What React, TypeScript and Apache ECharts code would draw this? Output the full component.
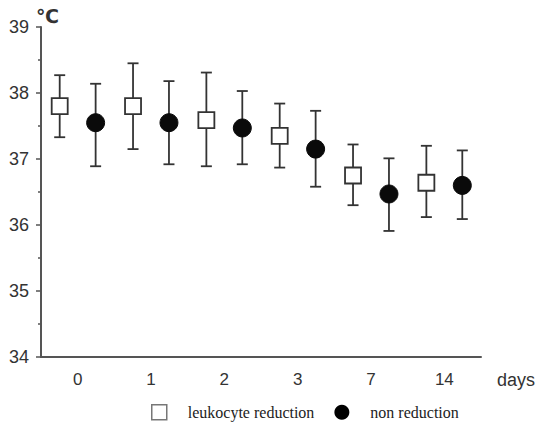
import React, { useEffect, useRef } from "react";
import * as echarts from "echarts";

const days = ["0", "1", "2", "3", "7", "14"];
const leukMean = [37.8, 37.8, 37.59, 37.35, 36.75, 36.64];
const leukLow = [37.33, 37.15, 36.89, 36.87, 36.3, 36.12];
const leukHigh = [38.27, 38.45, 38.31, 37.84, 37.22, 37.2];
const nonMean = [37.55, 37.55, 37.47, 37.15, 36.47, 36.6];
const nonLow = [36.89, 36.92, 36.92, 36.58, 35.91, 36.09];
const nonHigh = [38.14, 38.18, 38.03, 37.73, 37.01, 37.13];
const yTicks = [34, 35, 36, 37, 38, 39];

const LEUK = "leukocyte reduction";
const NON = "non reduction";

function makeRender(side: number, kind: "square" | "circle") {
  return (params: any, api: any) => {
    const idx = api.value(0);
    const bw = api.size([1, 0])[0];
    const off = bw * 0.245 * side;
    const c = api.coord([idx, api.value(1)]);
    const lo = api.coord([idx, api.value(2)]);
    const hi = api.coord([idx, api.value(3)]);
    const x = c[0] + off;
    const cap = 5.5;
    const lineStyle = { stroke: "#333", lineWidth: 1.8 };
    const children: any[] = [
      { type: "line", shape: { x1: x, y1: hi[1], x2: x, y2: lo[1] }, style: lineStyle },
      { type: "line", shape: { x1: x - cap, y1: hi[1], x2: x + cap, y2: hi[1] }, style: lineStyle },
      { type: "line", shape: { x1: x - cap, y1: lo[1], x2: x + cap, y2: lo[1] }, style: lineStyle },
    ];
    if (kind === "square") {
      children.push({
        type: "rect",
        shape: { x: x - 8, y: c[1] - 8, width: 16, height: 16 },
        style: { fill: "#fff", stroke: "#333", lineWidth: 1.8 },
      });
    } else {
      children.push({
        type: "circle",
        shape: { cx: x, cy: c[1], r: 9 },
        style: { fill: "#0a0a0a", stroke: "#0a0a0a", lineWidth: 1 },
      });
    }
    return { type: "group", children };
  };
}

export default function App() {
  const ref = useRef<HTMLDivElement>(null);
  useEffect(() => {
    document.body.style.margin = "0";
    const chart = echarts.init(ref.current!, null, { renderer: "svg" });
    const leukData = days.map((_, i) => [i, leukMean[i], leukLow[i], leukHigh[i]]);
    const nonData = days.map((_, i) => [i, nonMean[i], nonLow[i], nonHigh[i]]);
    chart.setOption({
      animation: false,
      backgroundColor: "#fff",
      grid: { left: 41, right: 58, top: 27, bottom: 71, containLabel: false },
      legend: {
        left: 146,
        top: 399,
        itemWidth: 15,
        itemHeight: 15,
        itemGap: 20,
        textStyle: {
          fontFamily: "Liberation Serif",
          fontSize: 16,
          color: "#222",
          padding: [0, 0, 0, 16],
        },
        data: [
          { name: LEUK, icon: "rect", itemStyle: { color: "#fff", borderColor: "#777", borderWidth: 1.5 } },
          { name: NON, icon: "circle", itemStyle: { color: "#000", borderWidth: 0 } },
        ],
      },
      xAxis: {
        type: "category",
        data: days,
        boundaryGap: true,
        name: "days",
        nameLocation: "end",
        nameGap: 16,
        nameTextStyle: {
          fontFamily: "Liberation Sans",
          fontSize: 18,
          color: "#333",
          verticalAlign: "top",
          padding: [14, 0, 0, 0],
        },
        axisLine: { lineStyle: { color: "#555", width: 2 } },
        axisTick: { alignWithLabel: true, length: 5, lineStyle: { color: "#555", width: 1.5 } },
        axisLabel: { fontFamily: "Liberation Sans", fontSize: 17, color: "#333", margin: 14 },
        splitLine: { show: false },
      },
      yAxis: {
        type: "value",
        min: yTicks[0],
        max: yTicks[yTicks.length - 1],
        interval: 1,
        name: "℃",
        nameLocation: "end",
        nameGap: 2,
        nameTextStyle: {
          fontFamily: "DejaVu Sans",
          fontSize: 19,
          fontWeight: "bold",
          color: "#333",
          align: "left",
          padding: [0, 0, 0, -5],
        },
        axisLine: { show: true, lineStyle: { color: "#555", width: 2 } },
        axisTick: { show: true, length: 5, lineStyle: { color: "#555", width: 1.5 } },
        minorTick: { show: true, splitNumber: 2, length: 3, lineStyle: { color: "#555", width: 1.5 } },
        axisLabel: { fontFamily: "Liberation Sans", fontSize: 18, color: "#333", margin: 12 },
        splitLine: { show: false },
      },
      series: [
        {
          name: LEUK,
          type: "custom",
          renderItem: makeRender(-1, "square"),
          itemStyle: { color: "#fff", borderColor: "#777" },
          encode: { x: 0, y: [1, 2, 3] },
          data: leukData,
        },
        {
          name: NON,
          type: "custom",
          renderItem: makeRender(1, "circle"),
          itemStyle: { color: "#000" },
          encode: { x: 0, y: [1, 2, 3] },
          data: nonData,
        },
      ],
    });
    return () => chart.dispose();
  }, []);
  return <div ref={ref} style={{ width: 539, height: 428 }} />;
}
